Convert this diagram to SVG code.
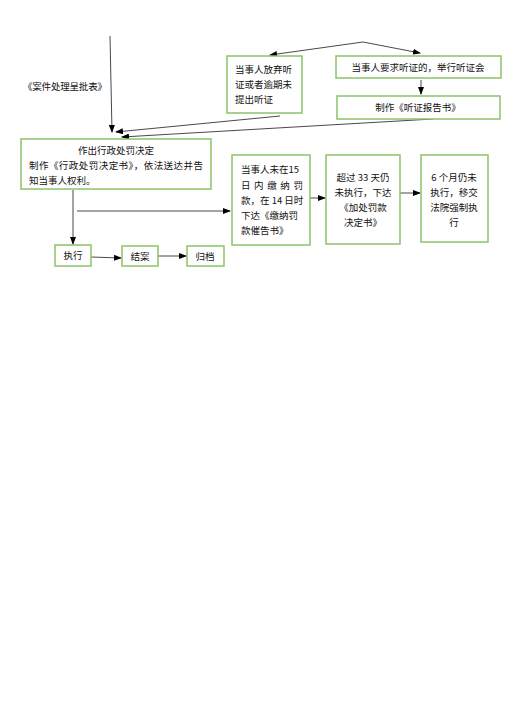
<svg xmlns="http://www.w3.org/2000/svg" width="526" height="720" viewBox="0 0 526 720">
<defs>
<marker id="ah" markerWidth="8" markerHeight="6" refX="7" refY="3" orient="auto" markerUnits="userSpaceOnUse">
<path d="M0,0 L8,3 L0,6 z" fill="#000"/>
</marker>
<style>
.box{fill:#fff;stroke:#8dc26a;stroke-width:1.5}
.ln{fill:none;stroke:#333;stroke-width:0.9}
.t{font-family:"Noto Sans CJK SC","Noto Sans",sans-serif;font-size:9.5px;fill:#111}
.c{text-anchor:middle}
</style>
</defs>
<rect width="526" height="720" fill="#fff"/>
<g id="connectors">
<line class="ln" x1="110" y1="36" x2="112" y2="132" marker-end="url(#ah)"/>
<polyline class="ln" points="363,42 270,55" marker-end="url(#ah)"/>
<polyline class="ln" points="363,42 420,53" marker-end="url(#ah)"/>
<line class="ln" x1="421" y1="80" x2="421" y2="94" marker-end="url(#ah)"/>
<line class="ln" x1="280" y1="116" x2="116" y2="132" marker-end="url(#ah)"/>
<line class="ln" x1="433" y1="119" x2="122" y2="137" marker-end="url(#ah)"/>
<line class="ln" x1="73" y1="190" x2="73" y2="244" marker-end="url(#ah)"/>
<line class="ln" x1="77" y1="211" x2="230" y2="211" marker-end="url(#ah)"/>
<line class="ln" x1="91" y1="257" x2="121" y2="258" marker-end="url(#ah)"/>
<line class="ln" x1="158" y1="256" x2="186" y2="256" marker-end="url(#ah)"/>
<line class="ln" x1="310" y1="198" x2="325" y2="198" marker-end="url(#ah)"/>
<line class="ln" x1="400" y1="193" x2="420" y2="193" marker-end="url(#ah)"/>
</g>
<g id="label-approval">
<text class="t" x="23" y="90" textLength="84" lengthAdjust="spacing">《案件处理呈批表》</text>
</g>
<g id="node-waive">
<rect class="box" x="227" y="56" width="75" height="57"/>
<text class="t" x="235" y="73">当事人放弃听</text>
<text class="t" x="235" y="88">证或者逾期未</text>
<text class="t" x="235" y="103">提出听证</text>
</g>
<g id="node-hearing">
<rect class="box" x="336" y="56" width="165" height="22"/>
<text class="t c" x="418" y="71">当事人要求听证的，举行听证会</text>
</g>
<g id="node-report">
<rect class="box" x="337" y="96" width="163" height="23"/>
<text class="t c" x="418" y="111">制作《听证报告书》</text>
</g>
<g id="node-decision">
<rect class="box" x="21" y="139" width="190" height="50"/>
<text class="t c" x="116" y="154">作出行政处罚决定</text>
<text class="t" x="29" y="169" textLength="174" lengthAdjust="spacing">制作《行政处罚决定书》，依法送达并告</text>
<text class="t" x="29" y="184">知当事人权利。</text>
</g>
<g id="node-execute">
<rect class="box" x="55" y="245" width="36" height="21"/>
<text class="t c" x="73" y="259">执行</text>
</g>
<g id="node-close">
<rect class="box" x="122" y="246" width="36" height="20"/>
<text class="t c" x="140" y="260">结案</text>
</g>
<g id="node-archive">
<rect class="box" x="187" y="246" width="37" height="20"/>
<text class="t c" x="205" y="260">归档</text>
</g>
<g id="node-unpaid15">
<rect class="box" x="232" y="155" width="78" height="90"/>
<text class="t" x="241" y="173">当事人未在15</text>
<text class="t" x="241" y="189" textLength="62" lengthAdjust="spacing">日内缴纳罚</text>
<text class="t" x="241" y="204">款，在 14 日时</text>
<text class="t" x="241" y="219">下达《缴纳罚</text>
<text class="t" x="241" y="234">款催告书》</text>
</g>
<g id="node-unpaid33">
<rect class="box" x="326" y="155" width="74" height="89"/>
<text class="t c" x="363" y="181">超过 33 天仍</text>
<text class="t c" x="363" y="196">未执行，下达</text>
<text class="t c" x="363" y="211">《加处罚款</text>
<text class="t c" x="363" y="226">决定书》</text>
</g>
<g id="node-court">
<rect class="box" x="421" y="155" width="67" height="87"/>
<text class="t c" x="454" y="181">6 个月仍未</text>
<text class="t c" x="454" y="196">执行，移交</text>
<text class="t c" x="454" y="211">法院强制执</text>
<text class="t c" x="454" y="226">行</text>
</g>
</svg>
